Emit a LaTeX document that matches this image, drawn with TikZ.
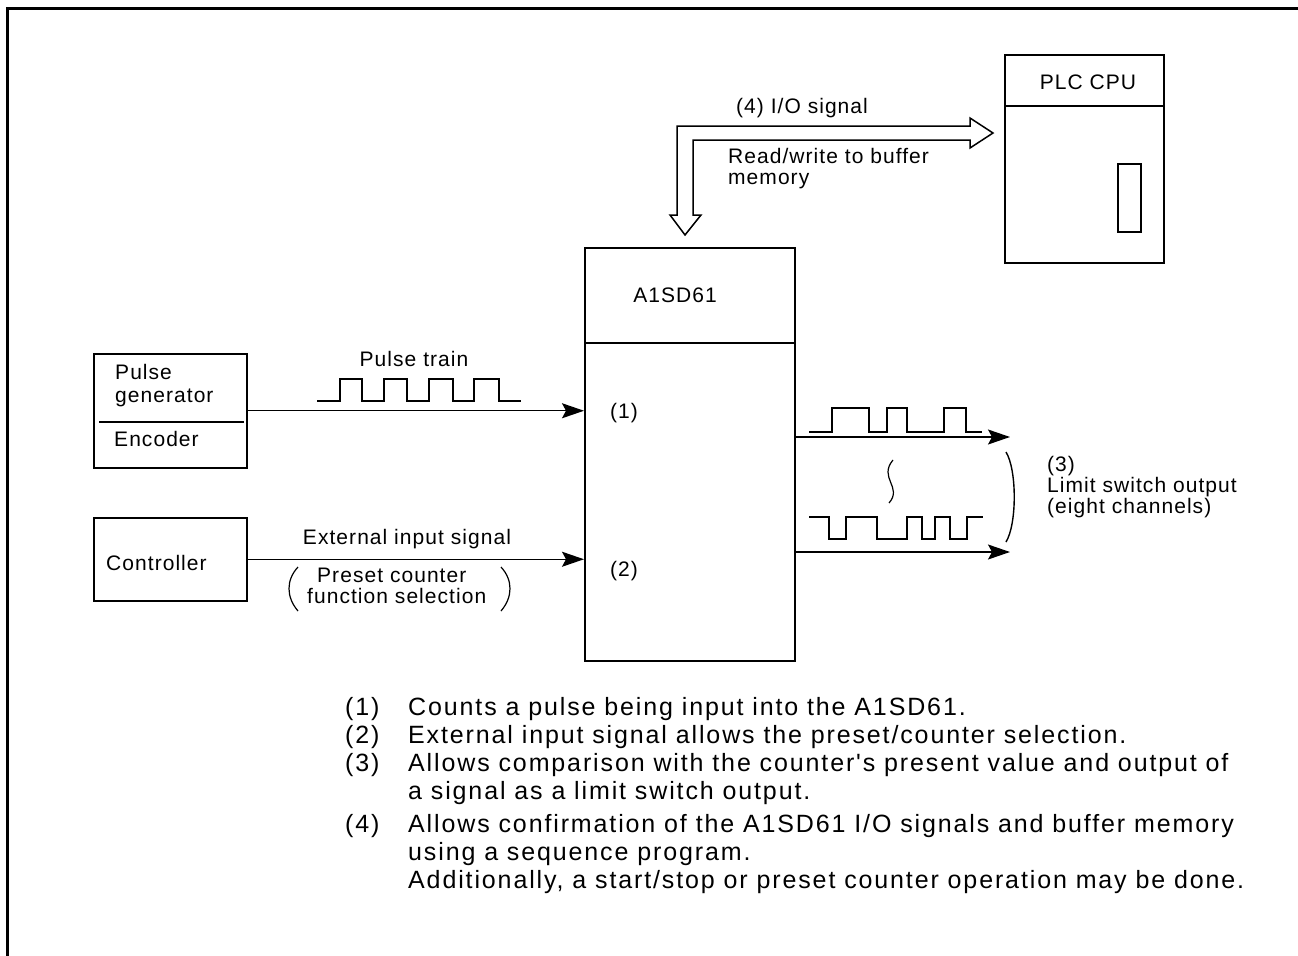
\documentclass[tikz,border=0pt]{standalone}
\usepackage{fontspec}
\setmainfont{Liberation Sans}
\newfontfamily\lblfont{Liberation Sans}[LetterSpace=5]
\newfontfamily\notefont{Liberation Sans}[LetterSpace=7.5]
\usetikzlibrary{arrows.meta,calc}

\tikzset{
  box/.style={draw,line width=1.5bp,anchor=north west,inner sep=0pt},
  lbl/.style={inner sep=0pt,font=\lblfont\fontsize{21bp}{21bp}\selectfont},
  note/.style={inner sep=0pt,font=\notefont\fontsize{25bp}{28bp}\selectfont},
  sig/.style={line width=1.4bp,-{Stealth[length=22bp,width=15bp,inset=4bp]}},
  wave/.style={line width=1.4bp},
}

\begin{document}
\begin{tikzpicture}[x=1bp,y=-1bp]
    \useasboundingbox (0,0) rectangle (1298,956);

    % Frame on the top and on the left
    \draw[line width=3bp] (7,956) -- (7,8) -- (1298,8);

    % Boxes of the units
    \node[box,minimum width=153bp,minimum height=114bp] (pg) at (93,353) {};
    \node[box,minimum width=153bp,minimum height=83bp] (ctrl) at (93,517) {};
    \node[box,minimum width=210bp,minimum height=413bp] (a1) at (584,247) {};
    \node[box,minimum width=159bp,minimum height=208bp] (plc) at (1004,54) {};
    \node[box,minimum width=23bp,minimum height=68bp] (slot) at (1117,163) {};

    % Dividing lines inside the boxes
    \draw[line width=1.5bp] ([yshift=-96bp]a1.north west) -- ([yshift=-96bp]a1.north east);
    \draw[line width=1.5bp] ([yshift=-52bp]plc.north west) -- ([yshift=-52bp]plc.north east);
    \draw[line width=1.3bp] ([xshift=6bp,yshift=-69bp]pg.north west) -- ([xshift=-4bp,yshift=-69bp]pg.north east);

    % Texts in the boxes
    \node[lbl,anchor=north west,align=left,font=\lblfont\fontsize{21bp}{23bp}\selectfont] (pgname) at (115,364) {Pulse\\generator};
    \node[lbl,anchor=north west] (encname) at (114,431) {Encoder};
    \node[lbl,anchor=west] (ctrlname) at (106,563) {Controller};
    \node[lbl,anchor=base] (a1name) at (675,302) {A1SD61};
    \node[lbl,anchor=base] (plcname) at (1088,89) {PLC CPU};
    \node[lbl,anchor=west] (in1) at (610,413) {(1)};
    \node[lbl,anchor=west] (in2) at (610,571) {(2)};

    % Input signals
    \draw[sig] (pg.east) -- (pg.east -| a1.west);
    \draw[sig] (ctrl.east) -- (ctrl.east -| a1.west);
    \node[lbl,anchor=base] (ptrain) at (414,366) {Pulse train};
    \node[lbl,anchor=base] (extin) at (407,544) {External input signal};
    \node[lbl,anchor=north west,align=left] (preset) at (307,568) {\hspace{10bp}Preset counter\\function selection};
    \draw[line width=1.2bp] (298,567) .. controls (286,580) and (286,597) .. (298,611);
    \draw[line width=1.2bp] (501,567) .. controls (513,580) and (513,597) .. (501,611);

    % Pulse train
    \draw[wave] (317,401) -- (340,401) -- (340,379) -- (362,379) -- (362,401) -- (384,401)
        -- (384,379) -- (407,379) -- (407,401) -- (429,401) -- (429,379) -- (453,379)
        -- (453,401) -- (474,401) -- (474,379) -- (499,379) -- (499,401) -- (521,401);

    % Limit switch outputs
    \coordinate (out1) at (1010,437);
    \coordinate (out2) at (1010,552);
    \draw[sig] (a1.east |- out1) -- (out1);
    \draw[sig] (a1.east |- out2) -- (out2);
    \draw[wave] (809,432) -- (832,432) -- (832,408) -- (869,408) -- (869,432) -- (887,432)
        -- (887,408) -- (907,408) -- (907,432) -- (944,432) -- (944,408) -- (966,408)
        -- (966,432) -- (982,432);
    \draw[wave] (809,517) -- (829,517) -- (829,539) -- (846,539) -- (846,517) -- (877,517)
        -- (877,539) -- (907,539) -- (907,517) -- (922,517) -- (922,539) -- (935,539)
        -- (935,517) -- (950,517) -- (950,539) -- (967,539) -- (967,517) -- (983,517);
    \draw[line width=1.2bp] (893,460) .. controls (878,478) and (903,487) .. (889,503);
    \draw[line width=1.4bp] (1006,452) .. controls (1017,470) and (1017,524) .. (1006,542);
    \node[lbl,anchor=north west,align=left] (lsout) at (1047,456) {(3)\\Limit switch output\\(eight channels)};

    % I/O signal between the CPU and the A1SD61
    \draw[line width=1.5bp,line join=miter] (677,215) -- (677,126) -- (970,126) -- (970,118) -- (993,133)
        -- (970,148) -- (970,140) -- (693,140) -- (693,215) -- (701,215) -- (685,235)
        -- (670,215) -- cycle;
    \node[lbl,anchor=base] (iosig) at (802,113) {(4) I/O signal};
    \node[lbl,anchor=north west,align=left] (rw) at (728,148) {Read/write to buffer\\memory};

    % Notes
    \node[note,anchor=north west,align=left] (notes) at (345,697) {%
        \makebox[63bp][l]{(1)}Counts a pulse being input into the A1SD61.\\
        \makebox[63bp][l]{(2)}External input signal allows the preset/counter selection.\\
        \makebox[63bp][l]{(3)}Allows comparison with the counter's present value and output of\\
        \hspace*{63bp}a signal as a limit switch output.\\[5bp]
        \makebox[63bp][l]{(4)}Allows confirmation of the A1SD61 I/O signals and buffer memory\\
        \hspace*{63bp}using a sequence program.\\
        \hspace*{63bp}Additionally, a start/stop or preset counter operation may be done.};

\end{tikzpicture}
\end{document}
